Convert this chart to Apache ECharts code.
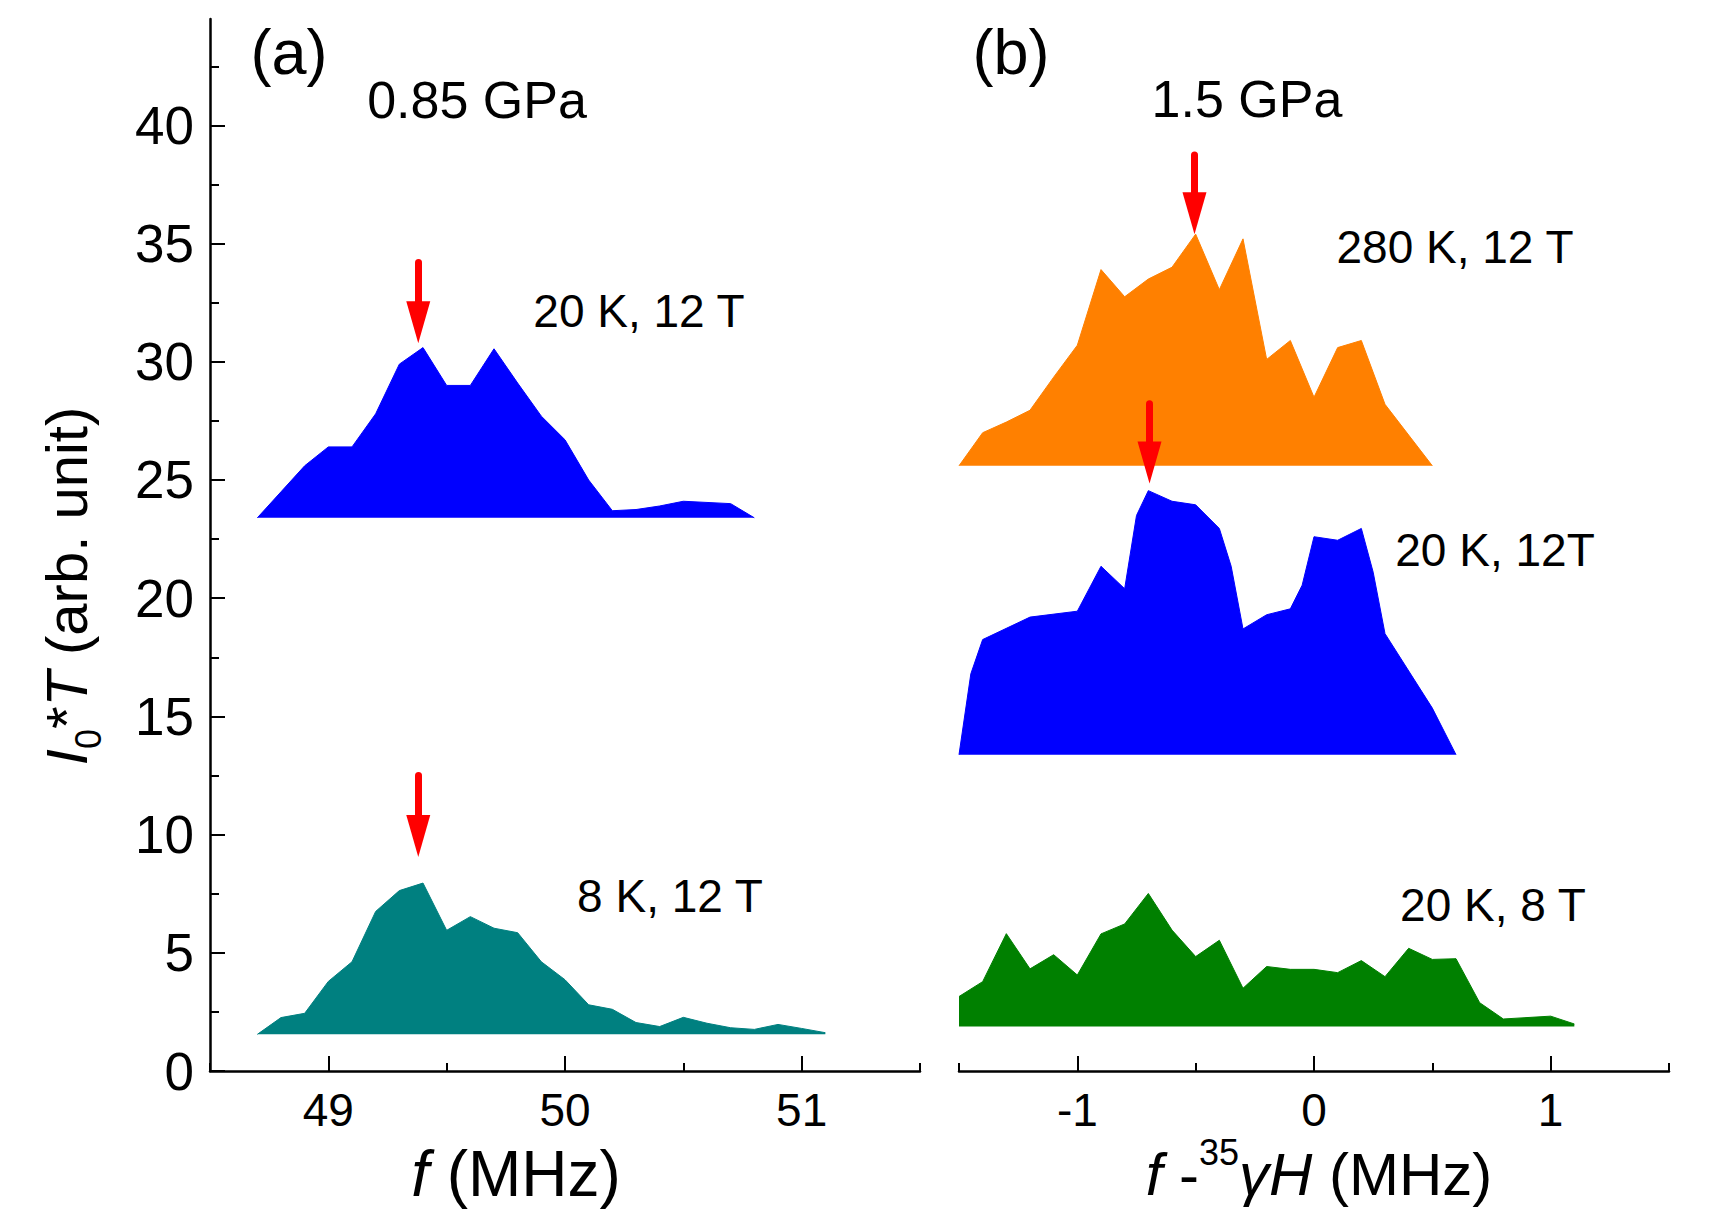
<!DOCTYPE html>
<html>
<head>
<meta charset="utf-8">
<title>NMR spectra (a) 0.85 GPa, (b) 1.5 GPa</title>
<script src="https://cdn.jsdelivr.net/npm/echarts@6/dist/echarts.min.js"></script>
<style>
  html, body { margin: 0; padding: 0; background: #fff; }
  #chart { width: 1725px; height: 1213px; }
</style>
</head>
<body>
<div id="chart"></div>
<script>
// panel (a), 0.85 GPa : f (MHz) vs I0*T
const fA20K = [48.7, 48.8, 48.9, 49.0, 49.1, 49.2, 49.3, 49.4, 49.5, 49.6, 49.7,
  49.8, 49.9, 50.0, 50.1, 50.2, 50.3, 50.4, 50.5, 50.6, 50.7, 50.8];
const iA20K = [23.4, 24.5, 25.6, 26.4, 26.4, 27.8, 29.9, 30.6, 29.0, 29.0, 30.55,
  29.1, 27.7, 26.7, 25.0, 23.7, 23.75, 23.9, 24.1, 24.05, 24.0, 23.4];
const baseA20K = 23.4;

const fA8K = [48.7, 48.8, 48.9, 49.0, 49.1, 49.2, 49.3, 49.4, 49.5, 49.6, 49.7, 49.8,
  49.9, 50.0, 50.1, 50.2, 50.3, 50.4, 50.5, 50.6, 50.7, 50.8, 50.9, 51.0, 51.1];
const iA8K = [1.55, 2.26, 2.44, 3.79, 4.62, 6.75, 7.63, 7.95, 5.95, 6.53, 6.04, 5.85,
  4.62, 3.86, 2.80, 2.61, 2.05, 1.88, 2.27, 2.02, 1.83, 1.76, 1.97, 1.80, 1.62];
const baseA8K = 1.55;

// panel (b), 1.5 GPa : f - 35γH (MHz) vs I0*T
const dfB280K = [-1.5, -1.4, -1.3, -1.2, -1.1, -1.0, -0.9, -0.8, -0.7, -0.6, -0.5,
  -0.4, -0.3, -0.2, -0.1, 0.0, 0.1, 0.2, 0.3, 0.4, 0.5];
const iB280K = [25.6, 27.0, 27.45, 27.95, 29.35, 30.7, 33.9, 32.75, 33.5, 34.0, 35.4,
  33.05, 35.2, 30.1, 30.9, 28.5, 30.6, 30.9, 28.2, 26.9, 25.6];
const baseB280K = 25.6;

const dfB20K12 = [-1.5, -1.45, -1.4, -1.2, -1.0, -0.9, -0.8, -0.75, -0.7, -0.6, -0.5, -0.4,
  -0.35, -0.3, -0.2, -0.1, -0.05, 0.0, 0.1, 0.2, 0.25, 0.3, 0.5, 0.6];
const iB20K12 = [13.38, 16.8, 18.25, 19.2, 19.45, 21.35, 20.4, 23.5, 24.55, 24.1, 23.95, 22.95,
  21.35, 18.7, 19.3, 19.55, 20.55, 22.6, 22.45, 22.95, 21.1, 18.5, 15.35, 13.38];
const baseB20K12 = 13.38;

const dfB20K8 = [-1.5, -1.4, -1.3, -1.2, -1.1, -1.0, -0.9, -0.8, -0.7, -0.6, -0.5, -0.4, -0.3,
  -0.2, -0.1, 0.0, 0.1, 0.2, 0.3, 0.4, 0.5, 0.6, 0.7, 0.8, 0.9, 1.0, 1.1];
const iB20K8 = [3.15, 3.78, 5.81, 4.32, 4.92, 4.06, 5.80, 6.22, 7.51, 5.96, 4.84, 5.53, 3.50,
  4.42, 4.30, 4.30, 4.16, 4.67, 3.99, 5.19, 4.72, 4.75, 2.89, 2.20, 2.26, 2.32, 1.99];
const baseB20K8 = 1.88;

// red arrows: [x, top, tip]
const arrowA20K = [49.38, 34.2, 30.78];
const arrowA8K = [49.38, 12.5, 9.05];
const arrowB280K = [-0.505, 38.75, 35.4];
const arrowB20K12 = [-0.695, 28.23, 24.85];

// ticks
const yLabels = [0, 5, 10, 15, 20, 25, 30, 35, 40];
const yMinor = [2.5, 7.5, 12.5, 17.5, 22.5, 27.5, 32.5, 37.5, 42.5];
const xLabelsA = [49, 50, 51];
const xMinorA = [48.5, 49.5, 50.5, 51.5];
const xLabelsB = [-1, 0, 1];
const xMinorB = [-1.5, -0.5, 0.5, 1.5];

const FONT = '"Liberation Sans", Arial, Helvetica, sans-serif';
const yMax = 44.5;
const gridTop = 19, gridH = 1052;
const headW = 24, headL = 42;
const pxPerUnit = gridH / yMax;

const chart = echarts.init(document.getElementById('chart'), null, { renderer: 'svg' });

function pairs(xs, ys) {
  return xs.map((x, i) => [x, ys[i]]);
}

function arrowLine(a) {
  // line ends at the head centre, the head tip lands on a[2]
  return {
    silent: true,
    animation: false,
    symbol: ['none', 'triangle'],
    symbolSize: [headW, headL],
    label: { show: false },
    emphasis: { disabled: true },
    lineStyle: { color: '#ff0000', width: 7, type: 'solid', opacity: 1, cap: 'round' },
    itemStyle: { color: '#ff0000' },
    data: [[{ coord: [a[0], a[1]] }, { coord: [a[0], a[2] + headL / 2 / pxPerUnit] }]]
  };
}

function spectrum(xs, ys, base, color, panel, arrow) {
  const s = {
    type: 'line',
    xAxisIndex: panel === 0 ? 0 : 2,
    yAxisIndex: panel === 0 ? 0 : 2,
    data: pairs(xs, ys),
    symbol: 'none',
    lineStyle: { color: color, width: 1 },
    itemStyle: { color: color },
    areaStyle: { color: color, opacity: 1, origin: base },
    silent: true
  };
  if (arrow) s.markLine = arrowLine(arrow);
  return s;
}

function xAxisMain(grid, min, max, labels, minor) {
  return {
    type: 'value', gridIndex: grid, position: 'bottom', min: min, max: max,
    axisLine: { show: true, onZero: false, lineStyle: { color: '#000', width: 2.5 } },
    axisTick: { show: true, inside: true, length: 8, customValues: minor,
      lineStyle: { color: '#000', width: 2 } },
    axisLabel: { show: true, customValues: labels, fontSize: 46, fontFamily: FONT,
      color: '#000', margin: 16 },
    splitLine: { show: false }
  };
}

function xAxisMajor(grid, min, max, labels) {
  return {
    type: 'value', gridIndex: grid, position: 'bottom', min: min, max: max,
    axisLine: { show: false, onZero: false },
    axisTick: { show: true, inside: true, length: 15, customValues: labels,
      lineStyle: { color: '#000', width: 2 } },
    axisLabel: { show: false },
    splitLine: { show: false }
  };
}

function text(x, y, str, size, extra) {
  return {
    type: 'text', x: x, y: y, silent: true,
    style: Object.assign({
      text: str, fontSize: size, fontFamily: FONT, fill: '#000',
      align: 'center', verticalAlign: 'middle'
    }, extra || {})
  };
}

const option = {
  animation: false,
  backgroundColor: '#fff',
  grid: [
    { left: 210, top: gridTop, width: 710, height: gridH },
    { left: 959, top: gridTop, width: 710, height: gridH }
  ],
  xAxis: [
    xAxisMain(0, 48.5, 51.5, xLabelsA, xMinorA),
    xAxisMajor(0, 48.5, 51.5, xLabelsA),
    xAxisMain(1, -1.5, 1.5, xLabelsB, xMinorB),
    xAxisMajor(1, -1.5, 1.5, xLabelsB)
  ],
  yAxis: [
    {
      type: 'value', gridIndex: 0, position: 'left', min: 0, max: yMax,
      axisLine: { show: true, onZero: false, lineStyle: { color: '#000', width: 2.5 } },
      axisTick: { show: true, inside: true, length: 9, customValues: yMinor,
        lineStyle: { color: '#000', width: 2 } },
      axisLabel: { show: true, customValues: yLabels, fontSize: 53, fontFamily: FONT,
        color: '#000', margin: 16 },
      splitLine: { show: false }
    },
    {
      type: 'value', gridIndex: 0, position: 'left', min: 0, max: yMax,
      axisLine: { show: false, onZero: false },
      axisTick: { show: true, inside: true, length: 15, customValues: yLabels,
        lineStyle: { color: '#000', width: 2 } },
      axisLabel: { show: false },
      splitLine: { show: false }
    },
    {
      type: 'value', gridIndex: 1, min: 0, max: yMax, show: false,
      splitLine: { show: false }
    }
  ],
  series: [
    spectrum(fA20K, iA20K, baseA20K, '#0000ff', 0, arrowA20K),
    spectrum(fA8K, iA8K, baseA8K, '#008080', 0, arrowA8K),
    spectrum(dfB280K, iB280K, baseB280K, '#ff8000', 1, arrowB280K),
    spectrum(dfB20K12, iB20K12, baseB20K12, '#0000ff', 1, arrowB20K12),
    spectrum(dfB20K8, iB20K8, baseB20K8, '#008000', 1, null)
  ],
  graphic: [
    text(289, 52, '(a)', 63),
    text(477, 100, '0.85 GPa', 52),
    text(1011, 52, '(b)', 63),
    text(1247, 99, '1.5 GPa', 52),
    text(639, 311, '20 K, 12 T', 46),
    text(670, 896, '8 K, 12 T', 46),
    text(1455, 247, '280 K, 12 T', 46),
    text(1495, 550, '20 K, 12T', 46),
    text(1493, 905, '20 K, 8 T', 46),
    // y axis title
    {
      type: 'text', x: 66, y: 586, rotation: Math.PI / 2, silent: true,
      style: {
        text: '{i|I}{sub|0}{n|*}{i|T}{n| (arb. unit)}',
        fontFamily: FONT, fill: '#000', align: 'center', verticalAlign: 'middle',
        rich: {
          i: { fontSize: 58, fontStyle: 'italic', fontFamily: FONT, lineHeight: 80 },
          n: { fontSize: 58, fontFamily: FONT, lineHeight: 80 },
          sub: { fontSize: 36, fontFamily: FONT, lineHeight: 36, verticalAlign: 'bottom' }
        }
      }
    },
    // x axis titles
    {
      type: 'text', x: 516, y: 1174, silent: true,
      style: {
        text: '{i|f}{n| (MHz)}',
        fontFamily: FONT, fill: '#000', align: 'center', verticalAlign: 'middle',
        rich: {
          i: { fontSize: 64, fontStyle: 'italic', fontFamily: FONT, lineHeight: 80 },
          n: { fontSize: 64, fontFamily: FONT, lineHeight: 80 }
        }
      }
    },
    {
      type: 'text', x: 1319, y: 1174, silent: true,
      style: {
        text: '{i|f}{n| -}{sup|35}{i|γH}{n| (MHz)}',
        fontFamily: FONT, fill: '#000', align: 'center', verticalAlign: 'middle',
        rich: {
          i: { fontSize: 60, fontStyle: 'italic', fontFamily: FONT, lineHeight: 80 },
          n: { fontSize: 60, fontFamily: FONT, lineHeight: 80 },
          sup: { fontSize: 36, fontFamily: FONT, lineHeight: 36, verticalAlign: 'top' }
        }
      }
    }
  ]
};

chart.setOption(option);
</script>
</body>
</html>
